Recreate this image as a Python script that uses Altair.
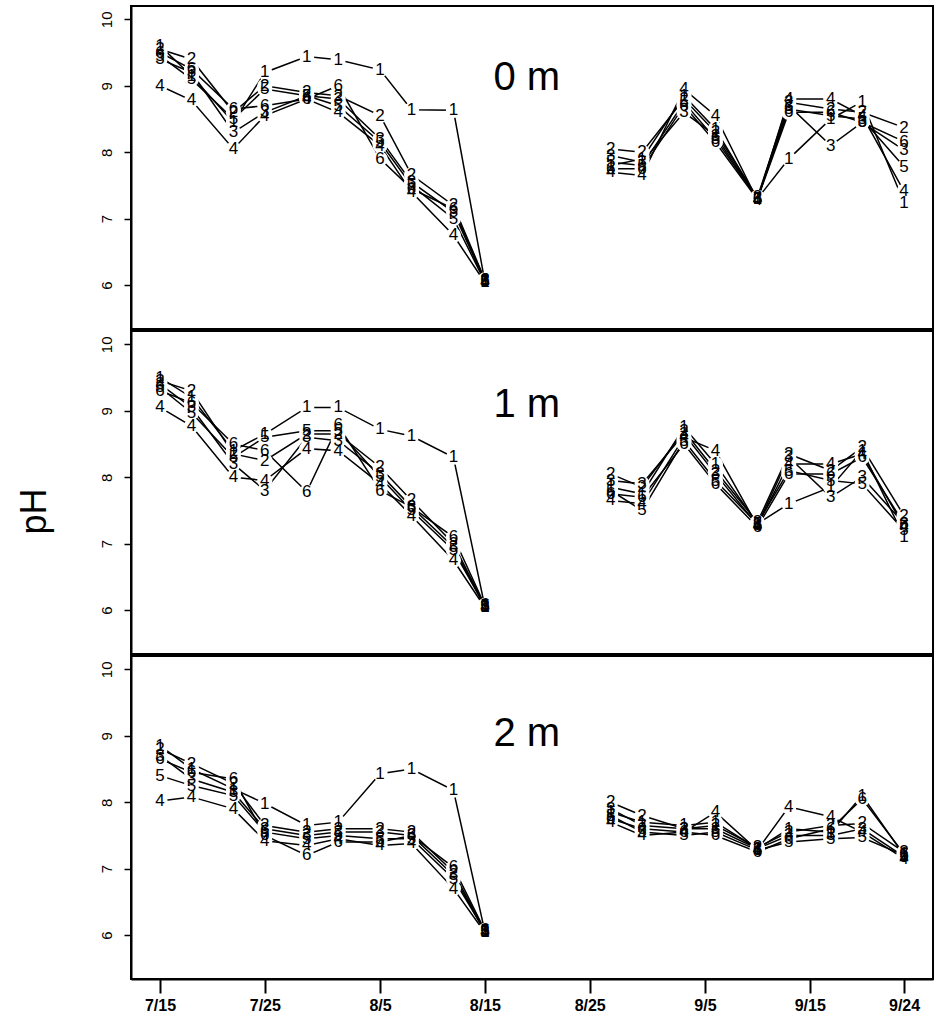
import datetime as dt
import altair as alt
import pandas as pd

FONT = "Liberation Sans"
YEAR = 1990

# sampling dates (month/day); two sampling periods separated by a gap
sample_dates = ["7/15", "7/18", "7/22", "7/25", "7/29", "8/1", "8/5", "8/8", "8/12", "8/15",
                "8/27", "8/30", "9/3", "9/6", "9/10", "9/13", "9/17", "9/20", "9/24"]
last_date_first_period = "8/15"
tick_dates = ["7/15", "7/25", "8/5", "8/15", "8/25", "9/5", "9/15", "9/24"]
y_ticks = [6, 7, 8, 9, 10]
stations = ["1", "2", "3", "4", "5", "6"]
depths = ["0 m", "1 m", "2 m"]
label_ph = [9.12, 9.08, 9.03]
label_date = "8/19"

# ---- pH at 0 m ----
ph_0m_s1 = [9.60, 9.15, 8.45, 9.20, 9.44, 9.39, 9.24, 8.64, 8.63, 6.05, 7.80, 7.90, 8.85, 8.35, 7.30, 7.90, 8.50, 8.76, 7.24]
ph_0m_s2 = [9.55, 9.40, 8.60, 9.00, 8.90, 8.85, 8.55, 7.66, 7.20, 6.08, 8.05, 8.00, 8.80, 8.30, 7.32, 8.75, 8.65, 8.60, 8.37]
ph_0m_s3 = [9.40, 9.20, 8.30, 8.60, 8.85, 8.80, 8.20, 7.55, 7.10, 6.06, 7.95, 7.85, 8.60, 8.25, 7.30, 8.70, 8.10, 8.45, 8.03]
ph_0m_s4 = [9.00, 8.78, 8.05, 8.55, 8.80, 8.60, 8.10, 7.40, 6.75, 6.04, 7.70, 7.65, 8.95, 8.55, 7.28, 8.80, 8.80, 8.55, 7.41]
ph_0m_s5 = [9.45, 9.10, 8.50, 8.95, 8.85, 8.70, 8.15, 7.50, 7.00, 6.05, 7.85, 7.80, 8.75, 8.20, 7.30, 8.65, 8.55, 8.50, 7.78]
ph_0m_s6 = [9.50, 9.25, 8.65, 8.70, 8.80, 9.00, 7.90, 7.45, 7.15, 6.07, 7.75, 7.75, 8.70, 8.15, 7.29, 8.60, 8.60, 8.45, 8.16]

# ---- pH at 1 m ----
ph_1m_s1 = [9.50, 9.20, 8.40, 8.65, 9.05, 9.05, 8.72, 8.62, 8.30, 6.05, 7.85, 7.75, 8.75, 8.20, 7.30, 7.60, 7.85, 8.40, 7.10]
ph_1m_s2 = [9.45, 9.30, 8.35, 8.25, 8.65, 8.65, 8.15, 7.65, 7.00, 6.06, 8.05, 7.85, 8.70, 8.10, 7.32, 8.35, 8.10, 8.45, 7.42]
ph_1m_s3 = [9.40, 9.05, 8.20, 7.80, 8.60, 8.55, 8.05, 7.55, 6.95, 6.05, 7.95, 7.90, 8.65, 8.05, 7.28, 8.30, 7.70, 8.00, 7.30]
ph_1m_s4 = [9.05, 8.77, 8.00, 7.95, 8.43, 8.40, 7.90, 7.42, 6.75, 6.04, 7.65, 7.60, 8.60, 8.40, 7.27, 8.20, 8.20, 8.35, 7.25]
ph_1m_s5 = [9.35, 8.97, 8.30, 8.60, 8.70, 8.70, 8.00, 7.50, 6.90, 6.06, 7.80, 7.50, 8.55, 7.95, 7.30, 8.10, 7.95, 7.90, 7.20]
ph_1m_s6 = [9.30, 9.12, 8.50, 8.40, 7.78, 8.78, 7.80, 7.55, 7.10, 6.07, 7.75, 7.70, 8.50, 7.90, 7.25, 8.05, 8.05, 8.30, 7.30]

# ---- pH at 2 m ----
ph_2m_s1 = [8.85, 8.50, 8.20, 7.98, 7.65, 7.70, 8.43, 8.50, 8.18, 6.05, 7.85, 7.70, 7.65, 7.70, 7.30, 7.60, 7.55, 8.10, 7.20]
ph_2m_s2 = [8.80, 8.58, 8.28, 7.65, 7.55, 7.60, 7.60, 7.55, 6.95, 6.06, 8.00, 7.80, 7.60, 7.65, 7.32, 7.55, 7.65, 7.68, 7.25]
ph_2m_s3 = [8.70, 8.35, 8.15, 7.60, 7.50, 7.55, 7.55, 7.50, 6.90, 6.05, 7.90, 7.65, 7.60, 7.60, 7.30, 7.50, 7.50, 7.60, 7.18]
ph_2m_s4 = [8.02, 8.08, 7.90, 7.42, 7.35, 7.45, 7.35, 7.38, 6.70, 6.04, 7.70, 7.50, 7.55, 7.85, 7.28, 7.93, 7.78, 7.55, 7.15]
ph_2m_s5 = [8.40, 8.25, 8.10, 7.55, 7.45, 7.50, 7.45, 7.45, 6.85, 6.06, 7.80, 7.55, 7.50, 7.55, 7.28, 7.40, 7.45, 7.47, 7.20]
ph_2m_s6 = [8.65, 8.45, 8.35, 7.50, 7.20, 7.40, 7.40, 7.50, 7.02, 6.07, 7.75, 7.60, 7.55, 7.50, 7.25, 7.45, 7.60, 8.05, 7.22]

series = {
    "0 m": [ph_0m_s1, ph_0m_s2, ph_0m_s3, ph_0m_s4, ph_0m_s5, ph_0m_s6],
    "1 m": [ph_1m_s1, ph_1m_s2, ph_1m_s3, ph_1m_s4, ph_1m_s5, ph_1m_s6],
    "2 m": [ph_2m_s1, ph_2m_s2, ph_2m_s3, ph_2m_s4, ph_2m_s5, ph_2m_s6],
}


def day_of(md):
    m, d = (int(v) for v in md.split("/"))
    return (dt.date(YEAR, m, d) - dt.date(YEAR, 7, 15)).days


break_day = day_of(last_date_first_period)
tick_days = [day_of(t) for t in tick_dates]
label_expr = " : ".join(f"datum.value == {d} ? '{t}'" for d, t in zip(tick_days, tick_dates)) + " : ''"

X_DOMAIN = [-2.77, 73.76]
Y_DOMAIN = [5.34, 10.2]
W, H = 802, 323


def panel(i, depth):
    rows = []
    for st, vals in zip(stations, series[depth]):
        for md, v in zip(sample_dates, vals):
            d = day_of(md)
            seg = "a" if d <= break_day else "b"
            rows.append({"day": d, "ph": v, "station": st, "grp": st + seg})
    df = pd.DataFrame(rows)
    bottom = i == len(depths) - 1

    if bottom:
        xaxis = alt.Axis(values=tick_days, labelExpr=label_expr, title=None, grid=False,
                         tickSize=14, tickWidth=2, tickColor="black", domainColor="black",
                         domainWidth=2, labelFont=FONT, labelFontSize=16, labelFontWeight="bold",
                         labelColor="black", labelPadding=4, labelFlush=False, labelOverlap=False)
    else:
        xaxis = None
    x = alt.X("day:Q", scale=alt.Scale(domain=X_DOMAIN, nice=False, zero=False), axis=xaxis)
    y = alt.Y("ph:Q", scale=alt.Scale(domain=Y_DOMAIN, nice=False, zero=False),
              axis=alt.Axis(values=y_ticks, format="d", labelAngle=270, labelAlign="center",
                            labelBaseline="bottom", labelFont=FONT, labelFontSize=15,
                            labelColor="black", labelPadding=10, labelFlush=False,
                            tickSize=7, tickWidth=1.5, tickColor="black",
                            domainColor="black", domainWidth=2, grid=False,
                            title="pH", titleFont=FONT, titleFontSize=36, titleFontWeight="normal",
                            titleColor="black", titleAngle=270, titleAlign="center",
                            titleBaseline="middle", titleX=-97, titleY=180,
                            titleOpacity=1 if i == 1 else 0))
    base = alt.Chart(df)
    lines = base.mark_line(color="black", strokeWidth=1.5).encode(x=x, y=y, detail="grp:N")
    gaps = base.mark_point(shape="circle", filled=True, color="white", opacity=1,
                           size=230, strokeWidth=0).encode(x=x, y=y)
    digits = base.mark_text(font=FONT, fontSize=17, color="black", baseline="middle",
                            align="center").encode(x=x, y=y, text="station:N")
    lab_df = pd.DataFrame({"day": [day_of(label_date)], "ph": [label_ph[i]], "t": [depth]})
    lab = alt.Chart(lab_df).mark_text(font=FONT, fontSize=40, color="black",
                                      align="center", baseline="middle").encode(
        x=alt.X("day:Q", scale=alt.Scale(domain=X_DOMAIN, nice=False, zero=False)),
        y=alt.Y("ph:Q", scale=alt.Scale(domain=Y_DOMAIN, nice=False, zero=False)),
        text="t:N")
    return alt.layer(lines, gaps, digits, lab).properties(width=W, height=H)


chart = alt.vconcat(*[panel(i, d) for i, d in enumerate(depths)], spacing=0).properties(
    padding={"left": 15, "top": 5, "right": 2, "bottom": 2}
).configure_view(stroke="black", strokeWidth=2)

chart.save("out.html", embed_options={"renderer": "svg", "actions": False})
